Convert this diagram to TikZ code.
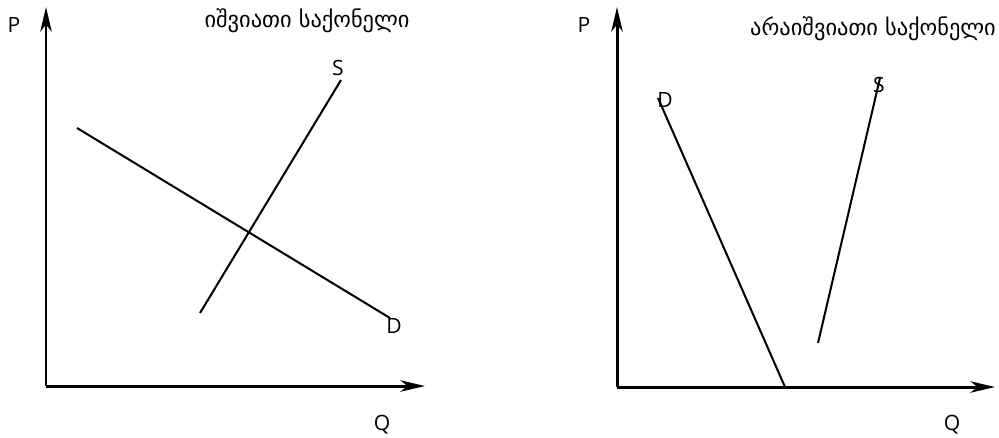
\documentclass[tikz,border=0pt]{standalone}
\usepackage{fontspec}
\setmainfont{Open Sans}
\newfontfamily\geofont{DejaVu Sans}
\usetikzlibrary{arrows.meta}

\begin{document}
\begin{tikzpicture}[
  x=0.02cm, y=-0.02cm,
  font=\fontsize{12}{14}\selectfont,
  axis/.style={-{Stealth[length=14pt, width=6.5pt, inset=4pt]}, draw=black, line width=1.7pt},
  curve/.style={draw=black, line width=1.15pt},
  lbl/.style={inner sep=0pt},
  title/.style={inner sep=0pt, font=\geofont\fontsize{12.75}{14}\selectfont}
]
\useasboundingbox (0,0) rectangle (999,437);

% Left panel: scarce goods.
\coordinate (lo) at (46,386);
\coordinate (ltop) at (46,7);
\coordinate (lright) at (425,386);
\draw[axis] (lo) -- (ltop);
\draw[axis] (lo) -- (lright);
\node[lbl] (lp) at (14,25) {P};
\node[lbl] (lq) at (382,425) {Q};
\node[title] (ltitle) at (307,21) {იშვიათი საქონელი};

\coordinate (ld1) at (77,128);
\coordinate (ld2) at (390,318);
\coordinate (ls1) at (200,313);
\coordinate (ls2) at (341,80);
\draw[curve] (ld1) -- (ld2);
\draw[curve] (ls1) -- (ls2);
\node[lbl] (ldl) at (394,326) {D};
\node[lbl] (lsl) at (338,68) {S};

% Right panel: non-scarce goods.
\coordinate (ro) at (617,387);
\coordinate (rtop) at (617,7);
\coordinate (rright) at (995,387);
\draw[axis] (ro) -- (rtop);
\draw[axis] (ro) -- (rright);
\node[lbl] (rp) at (584,25) {P};
\node[lbl] (rq) at (952,425) {Q};
\node[title] (rtitle) at (873,29) {არაიშვიათი საქონელი};

\coordinate (rd1) at (658,98);
\coordinate (rd2) at (785,387);
\coordinate (rs1) at (818,343);
\coordinate (rs2) at (880,78);
\draw[curve] (rd1) -- (rd2);
\draw[curve] (rs1) -- (rs2);
\node[lbl] (rdl) at (665,100) {D};
\node[lbl] (rsl) at (879,85) {S};

\end{tikzpicture}
\end{document}
